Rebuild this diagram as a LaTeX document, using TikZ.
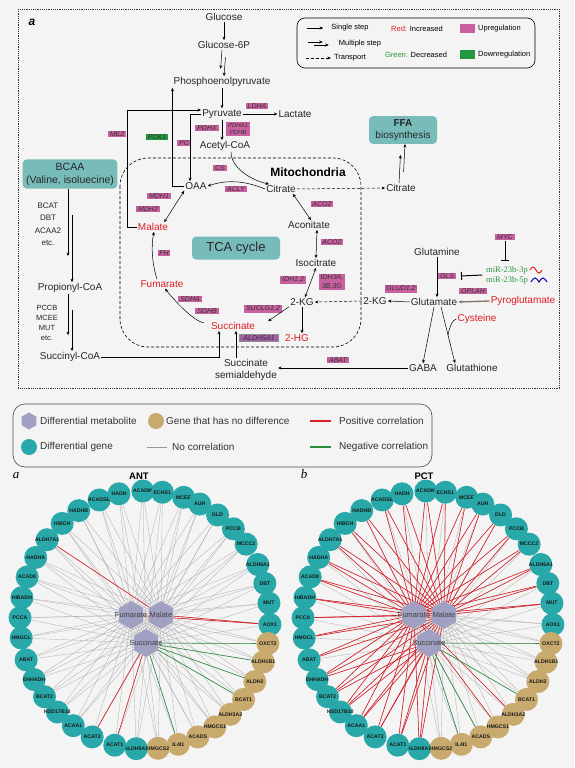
\documentclass[tikz,border=0pt]{standalone}
\usepackage{fontspec}
\setmainfont{Liberation Sans}
\newfontfamily\mirfont{Liberation Serif}
\usetikzlibrary{arrows.meta,shapes.geometric,calc}

\definecolor{bgcol}{RGB}{244,244,244}
\definecolor{upcol}{RGB}{200,96,160}
\definecolor{downcol}{RGB}{36,150,64}
\definecolor{boxteal}{RGB}{120,188,186}
\definecolor{incred}{RGB}{222,30,36}
\definecolor{decgreen}{RGB}{40,150,60}
\definecolor{diffgene}{RGB}{40,168,168}
\definecolor{nodiff}{RGB}{200,170,110}
\definecolor{metcol}{RGB}{160,160,194}
\definecolor{poscol}{RGB}{220,30,40}
\definecolor{negcol}{RGB}{40,140,60}
\definecolor{ssacol}{RGB}{165,95,165}
\definecolor{pyrocol}{RGB}{130,115,105}

\pgfdeclarelayer{bg}
\pgfdeclarelayer{edges}
\pgfsetlayers{bg,edges,main}

\newcommand\fmain{\fontsize{10}{12}\selectfont}
\newcommand\fenz{\fontsize{7}{8}\selectfont\itshape}
\newcommand\fleg{\fontsize{7.5}{9}\selectfont}
\newcommand\fgene{\fontsize{5.2}{6}\selectfont\bfseries}

% gene / angle on the ring
\newcommand\genelist{ACADM/91,ECHS1/82,MCEE/72,AUH/64,DLD/54.5,PCCB/45,MCCC2/36,ALDH6A1/25.5,DBT/16.5,MUT/7.5,AOX1/-2,OXCT2/-10.5,ALDH1B1/-19,ALDH2/-28.5,BCAT1/-38,ALDH3A2/-47,HMGCS1/-56,ACADS/-65,IL4I1/-74.5,HMGCS2/-84,ALDH9A1/-94,ACAT1/-104,ACAT2/-115,ACAA1/-125,HSD17B10/-134.5,BCAT2/-143.5,EHHADH/-152.5,ABAT/-162,HMGCL/-172,PCCA/-181,HIBADH/-190,ACAD8/-199.5,HADHA/-209,ALDH7A1/-218.5,HIBCH/-228.5,HADHB/-238,ACADSB/-248.5,HADH/-258}

% two offset arrows for a multiple step
\newcommand\multistep[2]{%
  \draw[onestep] ($(#1)+(-2,0)$) -- ($(#1)!0.72!(#2)+(-2,0)$);
  \draw[onestep] ($(#1)!0.28!(#2)+(2,0)$) -- ($(#2)+(2,0)$);}

\tikzset{
  met/.style={font=\fmain, inner sep=1pt, text=black!85},
  upmet/.style={met, text=incred},
  enz/.style={fill=upcol, font=\fenz, inner xsep=1.8pt, inner ysep=1pt, text=black!80},
  downenz/.style={enz, fill=downcol},
  tealbox/.style={fill=boxteal, rounded corners=4pt, align=center, font=\fmain, text=black!85},
  onestep/.style={-{Stealth[length=3.5pt,width=3pt]}, line width=0.5pt},
  twoway/.style={{Stealth[length=3.5pt,width=3pt]}-{Stealth[length=3.5pt,width=3pt]}, line width=0.5pt},
  transp/.style={onestep, dash pattern=on 3pt off 2pt},
  shuttle/.style={onestep, line width=0.9pt},
  inhib/.style={-{Bar[width=8pt]}, line width=1pt},
  gene/.style={circle, minimum size=23pt, inner sep=0pt},
  genelab/.style={font=\fgene, text=black!90, inner sep=0pt},
  metab/.style={regular polygon, regular polygon sides=6, shape border rotate=30, fill=metcol, minimum size=28pt, inner sep=0pt},
  metlab/.style={font=\fontsize{7.5}{8}\selectfont, text=black!75, inner sep=0pt},
  nocorr/.style={draw=black!32, line width=0.3pt},
  poscorr/.style={draw=poscol, line width=0.6pt},
  negcorr/.style={draw=negcol, line width=0.6pt},
  legtext/.style={font=\fontsize{10}{12}\selectfont, text=black!80, anchor=west, inner sep=0pt},
}

\begin{document}
\begin{tikzpicture}[x=1pt,y=-1pt]
\useasboundingbox (0,0) rectangle (574,768);
\begin{pgfonlayer}{bg}
  \fill[bgcol] (0,0) rectangle (574,768);
\end{pgfonlayer}

% panel a: pathway
\draw[dash pattern=on 1.2pt off 1pt, line width=0.7pt, draw=black!80] (18,9) rectangle (559,388);
\node[font=\fontsize{12}{12}\selectfont\bfseries\itshape] (taga) at (32,22) {a};
\draw[dash pattern=on 3pt off 2pt, line width=0.6pt, rounded corners=28pt] (120,158) rectangle (361,347);

\node[met] (glc) at (224,17) {Glucose};
\node[met] (g6p) at (224,45) {Glucose-6P};
\node[met] (pep) at (222,82) {Phosphoenolpyruvate};
\node[met] (pyr) at (222,114) {Pyruvate};
\node[met] (lac) at (295,114) {Lactate};
\node[met] (acoa) at (225,146) {Acetyl-CoA};
\node[met] (oaa) at (196,186) {OAA};
\node[met] (cit) at (281,189) {Citrate};
\node[met] (citout) at (401,188) {Citrate};
\node[tealbox, minimum width=68pt, minimum height=26pt, font=\fontsize{10}{12}\selectfont] (ffa) at (403,130) {\textbf{FFA}\\biosynthesis};
\node[font=\fontsize{12}{12}\selectfont\bfseries] (mito) at (308,172) {Mitochondria};
\node[met] (aco) at (309,225) {Aconitate};
\node[met] (iso) at (316,263) {Isocitrate};
\node[met] (akg) at (302,302) {2-KG};
\node[upmet] (hg) at (297,338) {2-HG};
\node[upmet] (suc) at (233,326) {Succinate};
\node[upmet] (fum) at (162,284) {Fumarate};
\node[upmet] (mal) at (153,227) {Malate};
\node[tealbox, minimum width=88pt, minimum height=23pt, font=\fontsize{13}{13}\selectfont] (tca) at (236,248) {TCA cycle};
\node[tealbox, minimum width=94pt, minimum height=28pt, font=\fontsize{10.5}{13}\selectfont] (bcaa) at (70,174) {BCAA\\(Valine, isoluecine)};
\node[met] (prop) at (70,288) {Propionyl-CoA};
\node[met] (succoa) at (70,357) {Succinyl-CoA};
\node[met, align=center] (ssa) at (246,370) {Succinate\\semialdehyde};
\node[met] (gaba) at (423,368) {GABA};
\node[met] (gsh) at (472,368) {Glutathione};
\node[met] (gln) at (437,252) {Glutamine};
\node[met] (glu) at (434,302) {Glutamate};
\node[met] (akgout) at (375,301) {2-KG};
\node[upmet] (pyroglu) at (523,301) {Pyroglutamate};
\node[upmet] (cys) at (477,319) {Cysteine};
\node[font=\mirfont\fontsize{8.5}{9}\selectfont, text=decgreen, inner sep=1pt] (mir3) at (507,270) {miR-23b-3p};
\node[font=\mirfont\fontsize{8.5}{9}\selectfont, text=decgreen, inner sep=1pt] (mir5) at (507,280) {miR-23b-5p};
\node[font=\fontsize{8}{12.5}\selectfont, align=center, text=black!85] (bcatlist) at (48,224) {BCAT\\DBT\\ACAA2\\etc.};
\node[font=\fontsize{7.5}{10}\selectfont, align=center, text=black!85] (pccblist) at (47,323) {PCCB\\MCEE\\MUT\\etc.};

% enzymes
\node[enz] (eME2) at (117,134) {ME2};
\node[downenz] (ePCK1) at (157,137) {PCK1};
\node[enz] (ePC) at (184,143) {PC};
\node[enz] (eLDHA) at (257,106) {LDHA};
\node[enz] (ePDHX) at (207,128) {PDHX};
\node[enz, align=center, font=\fontsize{6}{7}\selectfont\itshape] (ePDHA) at (238,129) {PDHA1\\PDHB};
\node[enz] (eCS) at (220,168) {CS};
\node[enz] (eACLY) at (236,189) {ACLY};
\node[enz] (eMDH1) at (159,196) {MDH1};
\node[enz] (eMDH2) at (148,209) {MDH2};
\node[enz] (eFH) at (164,253) {FH};
\node[enz] (eSDHA) at (190,299) {SDHA};
\node[enz] (eSDHB) at (207,311) {SDHB};
\node[enz, fill=ssacol, draw=black!45, minimum width=39pt] (eALDH) at (259,338) {ALDH5A1};
\node[enz] (eACOa) at (322,204) {ACO2};
\node[enz] (eACOb) at (332,242) {ACO2};
\node[enz] (eIDH12) at (293,280) {IDH1,2};
\node[enz, align=center, font=\fontsize{7}{9}\selectfont\itshape] (eIDH3) at (332,282) {IDH3A,\\3B,3G};
\node[enz] (eSUCLG) at (263,309) {SUCLG1,2};
\node[enz] (eGLUD) at (401,289) {GLUD1,2};
\node[enz] (eGLS) at (447,276) {GLS};
\node[enz] (eMYC) at (505,237) {MYC};
\node[enz] (eOPLAH) at (473,291) {OPLAH};
\node[enz] (eABAT) at (338,360) {ABAT};

% reactions
\draw[onestep] (glc) -- (g6p);
\multistep{g6p.south}{pep.north}
\draw[onestep] (pep) -- (pyr);
\draw[onestep] (pyr) -- (lac);
\draw[onestep] (pyr.south) -- (pyr.south |- acoa.north);
\draw[shuttle] (pyr.west) -| ([xshift=-6pt]oaa.north);
\draw[shuttle] (oaa.west) -| (pep.south west);
\draw[shuttle] (mal.west) -- ++(-9,0) |- ([yshift=4pt]pyr.west);
\draw[onestep] ([xshift=6pt]acoa.south) .. controls +(0,16) and +(-18,-4) .. ([xshift=4pt]cit.north west);
\draw[onestep] (cit.west) .. controls +(-22,-9) and +(18,-6) .. (oaa.east);
\draw[twoway] (oaa.south west) -- ([xshift=-5pt]mal.north east);
\draw[onestep] ([xshift=-5pt]fum.north) .. controls +(-5,-16) and +(-3,14) .. ([xshift=1pt]mal.south);
\draw[onestep] ([xshift=-6pt,yshift=3pt]suc.west) .. controls +(-12,-3) and +(8,10) .. ([xshift=3pt]fum.south);
\draw[twoway] ([xshift=-4pt]cit.south east) -- ([xshift=2pt]aco.north);
\draw[twoway] ([xshift=8pt]aco.south) -- (iso.north);
\draw[twoway] (iso.south) -- ([xshift=3pt]akg.north);
\draw[onestep] (akg.south) -- (akg.south |- hg.north);
\draw[onestep] (akg.south west) -- ([xshift=12pt]suc.north east);
\draw[transp] (cit.east) -- (citout.west);
\multistep{citout.north}{ffa.south}
\multistep{bcaa.south}{prop.north}
\multistep{prop.south}{succoa.north}
\draw[shuttle] (succoa.east) -| ([xshift=-14pt]suc.south);
\draw[onestep] ([xshift=-10pt]ssa.north) -- ([xshift=3pt]suc.south);
\draw[shuttle] (gaba.west) -- (gaba.west -| ssa.east);
\draw[onestep] (gln.south) -- (gln.south |- glu.north);
\draw[onestep] (glu.west) -- (akgout.east);
\draw[transp] (akgout.west) -- (akg.east);
\draw[onestep] (glu.south) -- (gaba.north);
\coordinate (glubot) at ([xshift=7pt]glu.south);
\coordinate (gshtop) at ([xshift=-17pt]gsh.north);
\draw[onestep] (glubot) -- (gshtop);
\draw[line width=0.5pt] (cys.west) .. controls +(-4,0) and +(1,-6) .. ($(glubot)!0.5!(gshtop)$);
\draw[onestep, draw=pyrocol, line width=1.3pt] (pyroglu.west) -- (glu.east);
\draw[inhib] ($(mir3.west)!0.5!(mir5.west)+(-3,0)$) -- ([xshift=5pt]eGLS.east);
\draw[inhib] (eMYC.south) -- ($(eMYC.south |- mir3.north)+(0,-4)$);
\draw[incred, line width=1pt] ([xshift=1pt]mir3.east) sin ++(3,-3) cos ++(3,3) sin ++(3,3) cos ++(3,-3);
\draw[blue!70!black, line width=1pt] ([xshift=2pt,yshift=-2pt]mir5.east) sin ++(4,-4) cos ++(4,4) sin ++(4,-4) cos ++(4,4);

% legend of panel a
\draw[rounded corners=8pt, line width=0.6pt] (297,18) rectangle (535,68);
\node[font=\fleg, inner sep=0pt] (lsingle) at (350,28) {Single step};
\node[font=\fleg, inner sep=0pt] (lmulti) at (360,44) {Multiple step};
\node[font=\fleg, inner sep=0pt] (ltransp) at (350,58) {Transport};
\node[font=\fleg, inner sep=0pt] (lred) at (417,29) {\textcolor{incred}{Red:} Increased};
\node[font=\fleg, inner sep=0pt] (lgreen) at (416,55) {\textcolor{decgreen}{Green:} Decreased};
\node[fill=upcol, minimum width=15pt, minimum height=9pt, inner sep=0pt] (lup) at (467,29) {};
\node[fill=downcol, minimum width=15pt, minimum height=9pt, inner sep=0pt] (ldown) at (467,55) {};
\node[font=\fleg, anchor=west, inner sep=0pt] (luptext) at (478,29) {Upregulation};
\node[font=\fleg, anchor=west, inner sep=0pt] (ldowntext) at (478,55) {Downregulation};
\draw[onestep] ([xshift=-24pt]lsingle.west) -- ([xshift=-8pt]lsingle.west);
\draw[onestep] ([xshift=-31pt,yshift=2pt]lmulti.west) -- ([xshift=-16pt,yshift=2pt]lmulti.west);
\draw[onestep] ([xshift=-25pt,yshift=-1pt]lmulti.west) -- ([xshift=-10pt,yshift=-1pt]lmulti.west);
\draw[transp] ([xshift=-28pt]ltransp.west) -- ([xshift=-3pt]ltransp.west);

% legend of the networks
\draw[rounded corners=12pt, line width=0.6pt, draw=black!70] (13,404) rectangle (432,467);
\node[metab, minimum size=17pt] (lmet) at (29,421) {};
\node[legtext] (lmettext) at (40,421) {Differential metabolite};
\node[gene, fill=nodiff, minimum size=16pt] (lnod) at (156,421) {};
\node[legtext] (lnodtext) at (166,421) {Gene that has no difference};
\node[legtext] (lpostext) at (339,421) {Positive correlation};
\draw[draw=poscol, line width=1.2pt] ([xshift=-29pt]lpostext.west) -- ([xshift=-8pt]lpostext.west);
\node[gene, fill=diffgene, minimum size=16pt] (ldiff) at (29,447) {};
\node[legtext] (ldifftext) at (40,447) {Differential gene};
\node[legtext] (lnotext) at (172,447) {No correlation};
\draw[draw=black!40, line width=0.8pt] ([xshift=-25pt]lnotext.west) -- ([xshift=-5pt]lnotext.west);
\node[legtext] (lnegtext) at (339,447) {Negative correlation};
\draw[draw=negcol, line width=1.2pt] ([xshift=-29pt]lnegtext.west) -- ([xshift=-8pt]lnegtext.west);

% networks
\node[font=\mirfont\itshape\fontsize{13}{13}\selectfont] (tagna) at (16,476) {a};
\node[font=\bfseries\fontsize{9.5}{10}\selectfont] (antt) at (139,476) {ANT};
\node[font=\mirfont\itshape\fontsize{13}{13}\selectfont] (tagb) at (304,474) {b};
\node[font=\bfseries\fontsize{9.5}{10}\selectfont] (pctt) at (424,476) {PCT};

\foreach \net/\cx in {A/145,P/428}{
  \foreach \g/\ang [count=\i] in \genelist{
    \def\gcol{diffgene}
    \ifnum\i>11 \ifnum\i<21 \def\gcol{nodiff}\fi\fi
    \node[gene, fill=\gcol, label={[genelab]center:\g}] (\net\i) at ({\cx+125*cos(\ang)},{620-129*sin(\ang)}) {};
  }
  \node[metab, label={[metlab]center:Fumarate}] (\net F) at (\cx-14,615) {};
  \node[metab, label={[metlab]center:Malate}] (\net M) at (\cx+16,615) {};
  \node[metab, label={[metlab]center:Succinate}] (\net S) at (\cx+1,643) {};
}

\begin{pgfonlayer}{edges}
  \foreach \net in {A,P}
    \foreach \i in {1,...,38}
      \foreach \m in {F,M,S}
        \draw[nocorr] (\net\m) -- (\net\i);
  % ANT
  \foreach \m/\i in {M/34,M/11,F/11,S/23,S/22}
    \draw[poscorr] (A\m) -- (A\i);
  \foreach \i in {12,13,14,15,19}
    \draw[negcorr] (AS) -- (A\i);
  % PCT
  \foreach \i in {1,...,10}{
    \draw[poscorr] (PF) -- (P\i);
    \draw[poscorr] (PM) -- (P\i);
  }
  \foreach \i in {21,...,38}{
    \draw[poscorr] (PF) -- (P\i);
    \draw[poscorr] (PM) -- (P\i);
  }
  \foreach \i in {21,...,27}
    \draw[poscorr] (PS) -- (P\i);
  \foreach \i in {16,17}
    \draw[poscorr] (PF) -- (P\i);
  \foreach \i in {12,15,18,19}
    \draw[negcorr] (PS) -- (P\i);
\end{pgfonlayer}
\end{tikzpicture}
\end{document}
